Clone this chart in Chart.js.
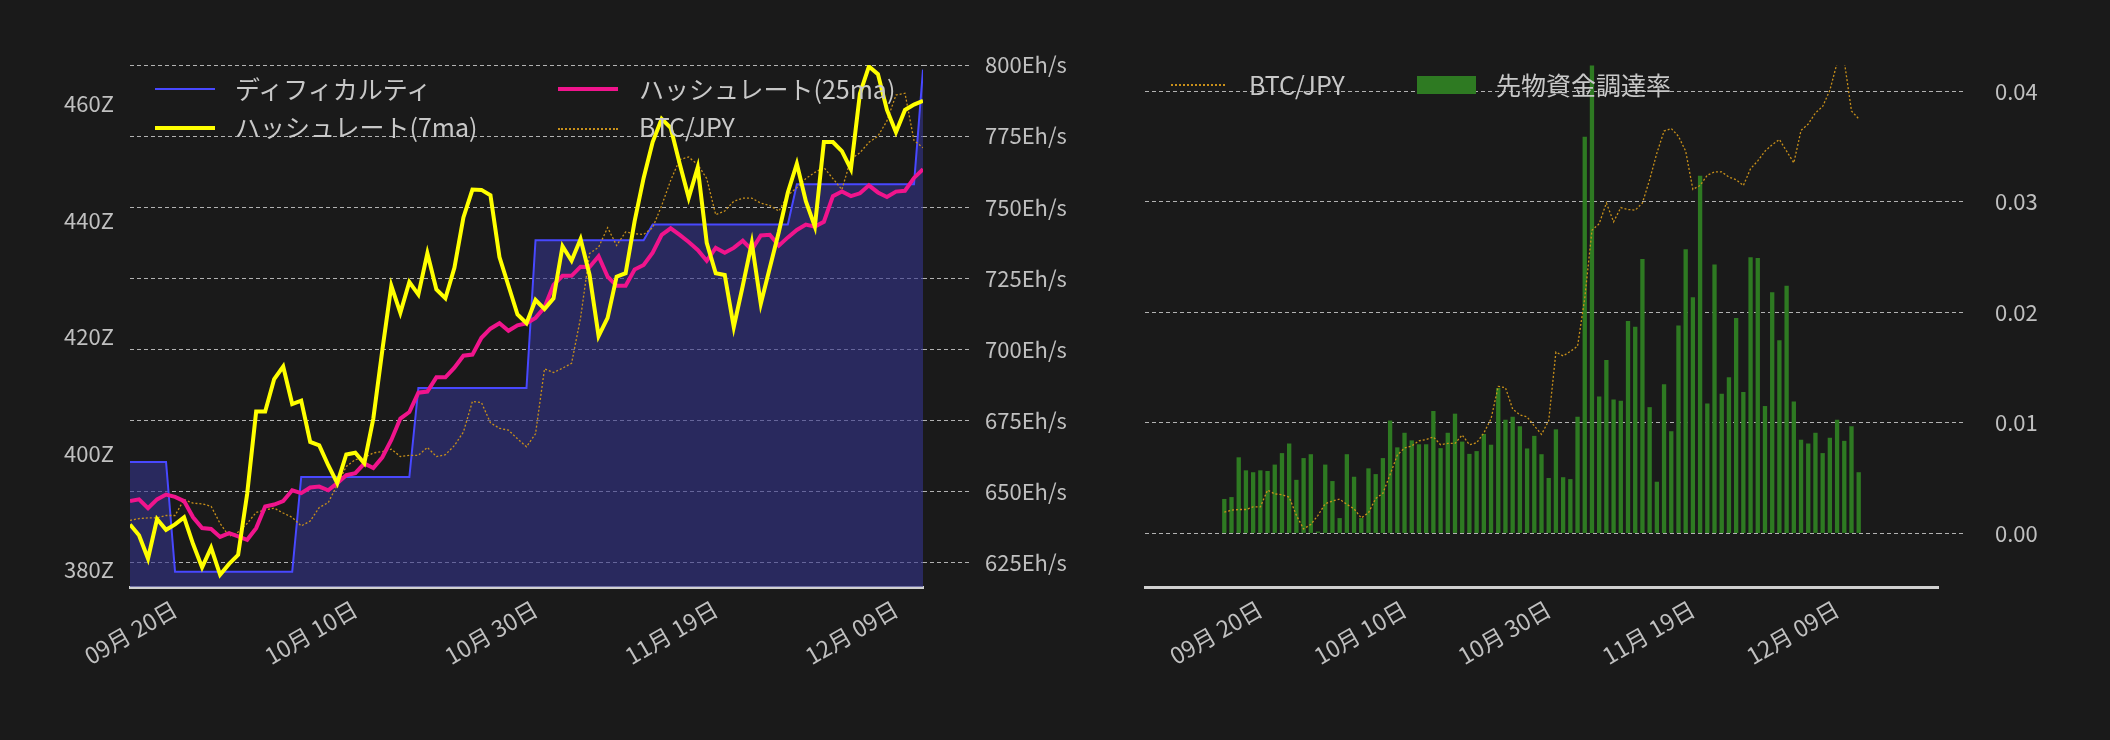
<!DOCTYPE html>
<html><head><meta charset="utf-8">
<script src="https://cdn.jsdelivr.net/npm/chart.js@4"></script>
<style>
html,body{margin:0;padding:0;background:#1a1a1a;width:2110px;height:740px;overflow:hidden;font-family:"Noto Sans CJK JP","Noto Sans",sans-serif}
.box{position:absolute;top:0;height:740px}
.lg{position:absolute;color:#c8c8c8;font-size:25px;line-height:30px;white-space:nowrap}
.sw{position:absolute}
</style></head><body>
<div class="box" style="left:0;width:1110px"><canvas id="c1" width="1110" height="740"></canvas></div>
<div class="box" style="left:1110px;width:1000px"><canvas id="c2" width="1000" height="740"></canvas></div>

<div class="sw" style="left:155px;top:88px;width:60px;height:2px;background:#4848ff"></div>
<div class="lg" style="left:235px;top:73px">ディフィカルティ</div>
<div class="sw" style="left:155px;top:126px;width:60px;height:4px;background:#ffff00"></div>
<div class="lg" style="left:235px;top:111px">ハッシュレート(7ma)</div>
<div class="sw" style="left:558px;top:87px;width:60px;height:4px;background:#f0148c"></div>
<div class="lg" style="left:639px;top:73px">ハッシュレート(25ma)</div>
<div class="sw" style="left:558px;top:128px;width:60px;height:0;border-top:2px dotted #c8901a"></div>
<div class="lg" style="left:639px;top:111px">BTC/JPY</div>

<div class="sw" style="left:1171px;top:84px;width:54px;height:0;border-top:2px dotted #c8901a"></div>
<div class="lg" style="left:1249px;top:69px">BTC/JPY</div>
<div class="sw" style="left:1417px;top:76px;width:59px;height:18px;background:#2e7a22"></div>
<div class="lg" style="left:1496px;top:69px">先物資金調達率</div>

<script>
const dates = (()=>{const a=[];const d=new Date(2024,8,15);for(let i=0;i<89;i++){const x=new Date(d);x.setDate(d.getDate()+i);a.push(String(x.getMonth()+1).padStart(2,'0')+'月 '+String(x.getDate()).padStart(2,'0')+'日');}return a;})();
const tickIdx = [5,25,45,65,85];
const difficulty = [398.5,398.5,398.5,398.5,398.5,379.6,379.6,379.6,379.6,379.6,379.6,379.6,379.6,379.6,379.6,379.6,379.6,379.6,379.6,395.9,395.9,395.9,395.9,395.9,395.9,395.9,395.9,395.9,395.9,395.9,395.9,395.9,411.2,411.2,411.2,411.2,411.2,411.2,411.2,411.2,411.2,411.2,411.2,411.2,411.2,436.6,436.6,436.6,436.6,436.6,436.6,436.6,436.6,436.6,436.6,436.6,436.6,436.6,439.3,439.3,439.3,439.3,439.3,439.3,439.3,439.3,439.3,439.3,439.3,439.3,439.3,439.3,439.3,439.3,446.2,446.2,446.2,446.2,446.2,446.2,446.2,446.2,446.2,446.2,446.2,446.2,446.2,446.2,465.9,465.9,465.9];
const hr7 = [638.5,634.7,626.5,640.4,636.6,638.5,641.0,631.6,623.4,630.3,620.8,624.6,627.8,649.2,678.2,678.2,689.6,694.0,680.8,682.0,667.5,666.3,659.3,653.0,663.1,663.7,660.0,675.7,699.7,722.4,712.9,723.7,719.3,733.8,721.1,718.0,728.7,746.4,756.2,756.1,754.2,732.5,722.4,712.3,709.2,717.4,714.2,718.0,736.3,731.2,738.8,726.2,704.7,711.1,725.6,726.8,745.1,760.3,772.9,781.1,777.9,765.3,753.3,764.0,737.5,726.8,726.2,707.9,722.4,737.5,716.1,728.7,741.3,755.2,765.3,752.1,743.2,772.9,772.9,769.7,763.4,789.9,799.5,796.8,784.2,776.4,784.2,786.1,787.4];
const hr25 = [646.7,647.3,644.2,647.3,649.0,648.2,646.7,641.0,637.2,636.9,634.1,635.4,634.3,633.1,637.2,644.8,645.5,646.7,650.5,649.5,651.5,651.8,650.5,653.0,655.8,656.5,659.9,658.3,662.1,668.2,675.7,678.0,684.8,685.2,690.2,690.2,693.6,697.8,698.2,704.1,707.3,709.2,706.6,708.5,709.2,711.1,714.8,722.7,725.9,725.9,729.1,729.0,732.8,725.6,722.4,722.4,728.1,729.7,734.0,740.3,742.6,740.3,737.8,735.0,731.2,735.7,734.0,735.7,738.2,735.0,740.1,740.3,736.5,739.4,742.0,743.9,743.2,744.9,753.9,755.5,753.9,754.9,757.7,755.2,753.6,755.5,755.8,760.3,763.4];
const btc = [8.53,8.56,8.57,8.57,8.61,8.61,8.87,8.81,8.80,8.76,8.48,8.27,8.34,8.48,8.66,8.70,8.73,8.65,8.58,8.44,8.52,8.74,8.82,9.11,9.41,9.52,9.55,9.63,9.65,9.69,9.57,9.59,9.59,9.72,9.57,9.60,9.75,9.97,10.47,10.45,10.12,10.03,10.00,9.86,9.73,9.94,11.00,10.94,11.01,11.09,11.83,12.88,12.98,13.30,13.01,13.23,13.20,13.19,13.30,13.66,14.07,14.41,14.45,14.33,14.10,13.51,13.57,13.73,13.78,13.78,13.70,13.66,13.57,13.83,13.95,14.10,14.20,14.28,14.10,13.92,14.42,14.52,14.69,14.79,15.04,15.46,15.49,14.72,14.60];
const funding = [.00312,.00329,.00689,.00571,.00554,.00571,.00565,.00623,.00727,.00814,.00485,.00682,.00717,.00017,.00623,.00474,.00139,.00717,.00513,.00139,.00589,.00537,.00682,.01022,.00779,.00911,.00842,.00807,.00807,.01108,.00772,.00911,.01084,.00831,.00720,.00745,.00900,.00803,.01316,.01029,.01056,.00970,.00769,.00883,.00717,.00502,.00942,.00509,.00492,.01056,.03591,.04236,.01240,.01569,.01212,.01202,.01922,.01870,.02483,.01143,.00468,.01351,.00925,.01881,.02573,.02137,.03238,.01177,.02435,.01264,.01413,.01950,.01281,.02500,.02494,.01153,.02182,.01749,.02241,.01195,.00848,.00814,.00911,.00727,.00866,.01029,.00838,.00970,.00554];
const diffTicks=[380,400,420,440,460];
const hrTicks=[625,650,675,700,725,750,775,800];
const fundTicks=[0,0.01,0.02,0.03,0.04];

const pts = arr => arr.map((v,i)=>({x:i,y:v}));
const TXT='#c0c0c0', FONT={family:'"Noto Sans CJK JP","Noto Sans",sans-serif',size:22};
const xAxis = (h)=>({type:'linear',min:0,max:88,
  afterBuildTicks:s=>{s.ticks=tickIdx.map(v=>({value:v}));},
  afterFit:s=>{s.height=h;},
  grid:{display:false,drawTicks:true,tickLength:6,color:'#ccc'},
  border:{color:'#d0d0d0',width:3},
  ticks:{color:TXT,font:{...FONT,size:23},maxRotation:30,minRotation:30,padding:2,callback:v=>dates[v]}});
Chart.defaults.animation=false;
Chart.defaults.responsive=false;

new Chart(document.getElementById('c1'),{type:'line',
 data:{datasets:[
  {label:'ディフィカルティ',data:pts(difficulty),yAxisID:'yD',borderColor:'#4848ff',borderWidth:2,backgroundColor:'rgba(52,52,140,0.6)',fill:'start',pointRadius:0,tension:0,order:4},
  {label:'BTC/JPY',data:pts(btc),yAxisID:'yB',borderColor:'#c8901a',borderWidth:1.3,borderDash:[2,2],pointRadius:0,fill:false,order:3},
  {label:'ハッシュレート(25ma)',data:pts(hr25),yAxisID:'yH',borderColor:'#f0148c',borderWidth:4,pointRadius:0,fill:false,order:2},
  {label:'ハッシュレート(7ma)',data:pts(hr7),yAxisID:'yH',borderColor:'#ffff00',borderWidth:4,pointRadius:0,fill:false,order:1}
 ]},
 options:{layout:{padding:{top:65,left:0,right:0,bottom:0}},
  plugins:{legend:{display:false},tooltip:{enabled:false}},
  scales:{
   x:xAxis(153),
   yD:{position:'left',min:377,max:466.7,afterBuildTicks:s=>{s.ticks=diffTicks.map(v=>({value:v}));},
     afterFit:s=>{s.width=130;},grid:{display:false},border:{display:false},
     ticks:{color:TXT,font:FONT,padding:8,callback:v=>v+'Z'}},
   yH:{position:'right',min:616.5,max:800,afterBuildTicks:s=>{s.ticks=hrTicks.map(v=>({value:v}));},
     afterFit:s=>{s.width=187;},
     grid:{color:'rgba(230,230,230,0.75)',lineWidth:1,tickLength:46,tickBorderDash:[4,3],tickColor:'rgba(230,230,230,0.75)'},
     border:{display:false,dash:[4,3]},
     ticks:{color:TXT,font:FONT,padding:16,callback:v=>v+'Eh/s'}},
   yB:{display:false,min:7.445,max:15.95}
  }}});
// dashed gridlines
Chart.getChart('c1').options.scales.yH.border.dash=[4,3];
Chart.getChart('c1').update();

new Chart(document.getElementById('c2'),{type:'bar',
 data:{datasets:[
  {type:'line',label:'BTC/JPY',data:pts(btc),yAxisID:'yB',borderColor:'#c8901a',borderWidth:1.3,borderDash:[2,2],pointRadius:0,fill:false,order:1},
  {type:'bar',label:'先物資金調達率',data:pts(funding),yAxisID:'yF',backgroundColor:'#2e7a22',categoryPercentage:1,barPercentage:0.6,order:2}
 ]},
 options:{layout:{padding:{top:65,left:35,right:0,bottom:0}},
  plugins:{legend:{display:false},tooltip:{enabled:false}},
  scales:{
   x:xAxis(153),
   yF:{position:'right',min:-0.00485,max:0.0424,afterBuildTicks:s=>{s.ticks=fundTicks.map(v=>({value:v}));},
     afterFit:s=>{s.width=172;},
     grid:{color:'rgba(230,230,230,0.75)',lineWidth:1,tickLength:27,tickBorderDash:[4,3],tickColor:'rgba(230,230,230,0.75)'},
     border:{display:false,dash:[4,3]},
     ticks:{color:TXT,font:FONT,padding:30,callback:v=>v.toFixed(2)}},
   yB:{display:false,min:7.374,max:15.43}
  }}});
</script>
</body></html>
